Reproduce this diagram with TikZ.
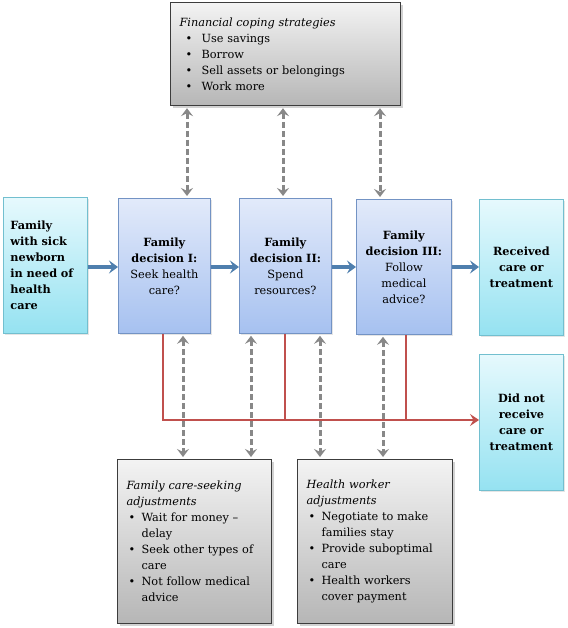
\documentclass[tikz,border=0pt]{standalone}
\usepackage{fontspec}
\setmainfont{DejaVu Serif}
\usetikzlibrary{arrows.meta,shadows}
\definecolor{grayTop}{HTML}{F3F3F3}
\definecolor{grayBot}{HTML}{B6B6B6}
\definecolor{grayEdge}{HTML}{3C3C3C}
\definecolor{decTop}{HTML}{E2EAFA}
\definecolor{decBot}{HTML}{A6C1F0}
\definecolor{decEdge}{HTML}{7393C4}
\definecolor{cyTop}{HTML}{E6F9FD}
\definecolor{cyBot}{HTML}{95E2F1}
\definecolor{cyEdge}{HTML}{72BFCF}
\definecolor{arrBlue}{HTML}{4F7FAE}
\definecolor{arrGray}{HTML}{888888}
\definecolor{arrRed}{HTML}{C0504D}
\newcommand{\bulA}{\makebox[22pt][l]{\hspace*{6pt}\textbullet}}
\newcommand{\bulB}{\makebox[15pt][l]{\hspace*{2pt}\textbullet}}
\newcommand{\contB}{\hspace*{15pt}}
\tikzset{
  basebox/.style={rectangle, anchor=north west, inner ysep=0pt,
    font=\fontsize{11.3}{16}\selectfont},
  graybox/.style={basebox, draw=grayEdge, line width=1.2pt, top color=grayTop, bottom color=grayBot,
    inner xsep=9pt, align=left,
    drop shadow={opacity=0.35, shadow xshift=2pt, shadow yshift=-2pt}},
  decbox/.style={basebox, draw=decEdge, line width=0.8pt, top color=decTop, bottom color=decBot,
    inner xsep=3pt, align=center, minimum width=92pt, minimum height=135pt, text width=86pt,
    drop shadow={opacity=0.2, shadow xshift=1.5pt, shadow yshift=-1.5pt}},
  cybox/.style={basebox, draw=cyEdge, line width=0.8pt, top color=cyTop, bottom color=cyBot,
    inner xsep=7pt, minimum width=84pt, minimum height=136pt, text width=70pt,
    drop shadow={opacity=0.2, shadow xshift=1.5pt, shadow yshift=-1.5pt}},
  bluearrow/.style={draw=arrBlue, line width=3.2pt, -{Stealth[length=9pt,width=13pt,inset=3.5pt]}},
  grayarrow/.style={draw=arrGray, line width=3pt, dash pattern=on 6pt off 3pt,
    {Stealth[length=8pt,width=12pt,inset=3pt]}-{Stealth[length=8pt,width=12pt,inset=3pt]},
    shorten <=2pt, shorten >=2pt},
  redline/.style={draw=arrRed, line width=2.3pt},
}
\begin{document}
\begin{tikzpicture}[x=1pt,y=-1pt]
\useasboundingbox (0,0) rectangle (567,628);
\fill[white] (0,0) rectangle (567,628);

% top box
\node[graybox, minimum width=230pt, minimum height=103pt, text width=212pt] (fin) at (170,2)
 {\textit{Financial coping strategies}\\
  \bulA Use savings\\
  \bulA Borrow\\
  \bulA Sell assets or belongings\\
  \bulA Work more};

% main row
\node[cybox, align=left] (fam) at (3,197)
 {\textbf{Family}\\\textbf{with sick}\\\textbf{newborn}\\\textbf{in need of}\\\textbf{health}\\\textbf{care}};
\node[decbox] (d1) at (118,198)
 {\textbf{Family}\\\textbf{decision I:}\\Seek health\\care?};
\node[decbox] (d2) at (239,198)
 {\textbf{Family}\\\textbf{decision II:}\\Spend\\resources?};
\node[decbox, minimum width=95pt] (d3) at (356,199)
 {\textbf{Family}\\\textbf{decision III:}\\Follow\\medical\\advice?};
\node[cybox, align=center] (rec) at (479,199)
 {\textbf{Received}\\\textbf{care or}\\\textbf{treatment}};
\node[cybox, align=center] (dnr) at (479,354)
 {\textbf{Did not}\\\textbf{receive}\\\textbf{care or}\\\textbf{treatment}};

% bottom boxes
\node[graybox, minimum width=154pt, minimum height=164pt, text width=136pt] (fcs) at (117,459)
 {\textit{Family care-seeking}\\
  \textit{adjustments}\\
  \bulB Wait for money --\\
  \contB delay\\
  \bulB Seek other types of\\
  \contB care\\
  \bulB Not follow medical\\
  \contB advice};
\node[graybox, minimum width=155pt, minimum height=164pt, text width=137pt] (hwa) at (297,459)
 {\textit{Health worker}\\
  \textit{adjustments}\\
  \bulB Negotiate to make\\
  \contB families stay\\
  \bulB Provide suboptimal\\
  \contB care\\
  \bulB Health workers\\
  \contB cover payment};

% blue arrows
\coordinate (by) at (0,267);
\draw[bluearrow] (fam.east |- by) -- (d1.west |- by);
\draw[bluearrow] (d1.east |- by) -- (d2.west |- by);
\draw[bluearrow] (d2.east |- by) -- (d3.west |- by);
\draw[bluearrow] (d3.east |- by) -- (rec.west |- by);

% gray dashed arrows, top
\coordinate (t1) at (187,0);
\coordinate (t2) at (283,0);
\coordinate (t3) at (380,0);
\draw[grayarrow] (fin.south -| t1) -- (d1.north -| t1);
\draw[grayarrow] (fin.south -| t2) -- (d2.north -| t2);
\draw[grayarrow] (fin.south -| t3) -- (d3.north -| t3);

% red lines
\coordinate (ry) at (0,420);
\coordinate (r1) at (163,0);
\coordinate (r2) at (285,0);
\coordinate (r3) at (406,0);
\draw[redline, -{Stealth[length=9pt,width=12pt,inset=3.5pt]}] (d1.south -| r1) -- (r1 |- ry) -- (dnr.west |- ry);
\draw[redline] (d2.south -| r2) -- (r2 |- ry);
\draw[redline] (d3.south -| r3) -- (r3 |- ry);

% gray dashed arrows, bottom
\coordinate (b1) at (183,0);
\coordinate (b2) at (251,0);
\coordinate (b3) at (320,0);
\coordinate (b4) at (383,0);
\draw[grayarrow] (d1.south -| b1) -- (fcs.north -| b1);
\draw[grayarrow] (d2.south -| b2) -- (fcs.north -| b2);
\draw[grayarrow] (d2.south -| b3) -- (hwa.north -| b3);
\draw[grayarrow] (d3.south -| b4) -- (hwa.north -| b4);
\end{tikzpicture}
\end{document}
